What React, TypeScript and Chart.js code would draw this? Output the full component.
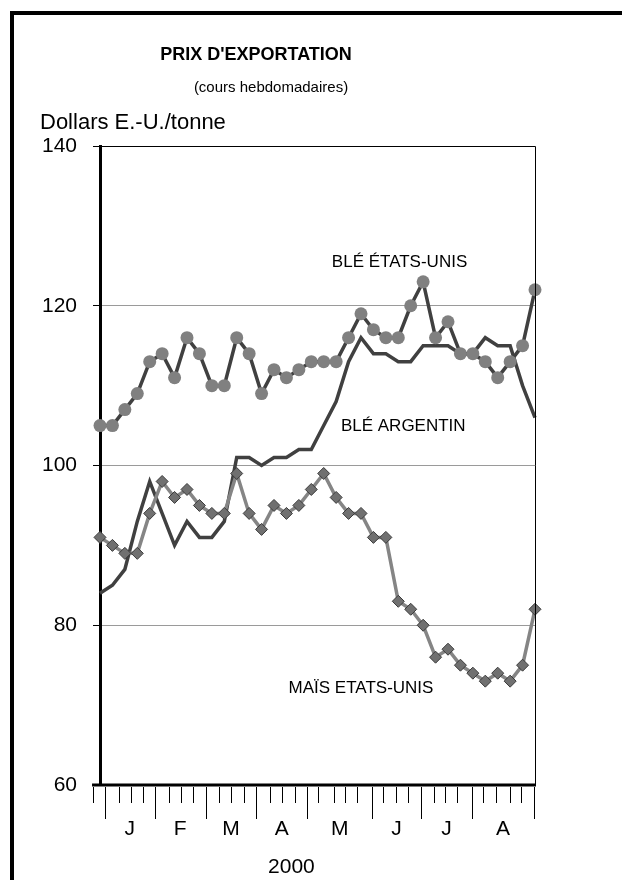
import React, { useEffect, useRef } from "react";
import { Chart, registerables } from "chart.js";

Chart.register(...registerables);

// ---- data ----
const weeks = [
  "S1", "S2", "S3", "S4", "S5", "S6", "S7", "S8", "S9", "S10", "S11", "S12",
  "S13", "S14", "S15", "S16", "S17", "S18", "S19", "S20", "S21", "S22", "S23", "S24",
  "S25", "S26", "S27", "S28", "S29", "S30", "S31", "S32", "S33", "S34", "S35", "S36",
];

const bleEtatsUnis = [
  105, 105, 107, 109, 113, 114, 111, 116, 114, 110, 110, 116,
  114, 109, 112, 111, 112, 113, 113, 113, 116, 119, 117, 116,
  116, 120, 123, 116, 118, 114, 114, 113, 111, 113, 115, 122,
];

const bleArgentin = [
  84, 85, 87, 93, 98, 94, 90, 93, 91, 91, 93, 101,
  101, 100, 101, 101, 102, 102, 105, 108, 113, 116, 114, 114,
  113, 113, 115, 115, 115, 114, 114, 116, 115, 115, 110, 106,
];

const maisEtatsUnis = [
  91, 90, 89, 89, 94, 98, 96, 97, 95, 94, 94, 99,
  94, 92, 95, 94, 95, 97, 99, 96, 94, 94, 91, 91,
  83, 82, 80, 76, 77, 75, 74, 73, 74, 73, 75, 82,
];

const yTicks = [60, 80, 100, 120, 140];
const gridValues = [80, 100, 120];

const monthLabels = ["J", "F", "M", "A", "M", "J", "J", "A"];
// month boundaries (long ticks), in week-index units
const monthBounds = [0.38, 4.4, 8.5, 12.57, 16.68, 21.91, 25.8, 29.95, 34.92];
// weekly tick marks (short), in week-index units
const weekTicks = [
  -0.56, 1.5, 2.47, 3.46, 5.55, 6.49, 7.48, 9.57, 10.56, 11.56, 13.65, 14.67,
  15.66, 17.56, 18.85, 19.71, 20.65, 22.74, 23.81, 24.8, 26.87, 27.76, 28.7,
  30.8, 31.86, 32.99, 33.85,
];
const yearLabel = "2000";

const title = "PRIX D'EXPORTATION";
const subtitle = "(cours hebdomadaires)";
const unitLabel = "Dollars E.-U./tonne";

// series labels placed in data coordinates [week index, value]
const seriesLabels: { text: string; at: [number, number] }[] = [
  { text: "BLÉ ÉTATS-UNIS", at: [24.1, 125.5] },
  { text: "BLÉ ARGENTIN", at: [24.4, 104.9] },
  { text: "MAÏS ETATS-UNIS", at: [21.0, 72.1] },
];

const FONT = "'Liberation Sans', Arial, Helvetica, sans-serif";

const decorPlugin = {
  id: "decor",
  afterDraw(chart: any) {
    const { ctx, chartArea: a, scales } = chart;
    const x = scales.x;
    const y = scales.y;
    ctx.save();
    // top and right frame of plot
    ctx.strokeStyle = "#000";
    ctx.lineWidth = 1;
    ctx.beginPath();
    ctx.moveTo(a.left, a.top + 0.5);
    ctx.lineTo(a.right + 0.5, a.top + 0.5);
    ctx.lineTo(a.right + 0.5, a.bottom);
    ctx.stroke();

    // x axis line
    const x0 = x.getPixelForValue(weekTicks[0]);
    ctx.lineWidth = 3;
    ctx.beginPath();
    ctx.moveTo(x0 - 1, a.bottom);
    ctx.lineTo(a.right + 1, a.bottom);
    ctx.stroke();

    // tick marks
    ctx.lineWidth = 1;
    ctx.beginPath();
    weekTicks.forEach((t) => {
      const px = Math.round(x.getPixelForValue(t)) + 0.5;
      ctx.moveTo(px, a.bottom + 2);
      ctx.lineTo(px, a.bottom + 18);
    });
    monthBounds.forEach((t) => {
      const px = Math.round(x.getPixelForValue(t)) + 0.5;
      ctx.moveTo(px, a.bottom + 2);
      ctx.lineTo(px, a.bottom + 34);
    });
    ctx.stroke();

    // month labels
    ctx.fillStyle = "#000";
    ctx.font = `21px ${FONT}`;
    ctx.textAlign = "center";
    ctx.textBaseline = "middle";
    monthLabels.forEach((m, i) => {
      const c = (x.getPixelForValue(monthBounds[i]) + x.getPixelForValue(monthBounds[i + 1])) / 2;
      ctx.fillText(m, c, a.bottom + 44);
    });
    ctx.fillText(yearLabel, x.getPixelForValue(15.4), a.bottom + 82);

    // series labels
    ctx.font = `17px ${FONT}`;
    seriesLabels.forEach((l) => {
      ctx.fillText(l.text, x.getPixelForValue(l.at[0]), y.getPixelForValue(l.at[1]));
    });

    // titles
    ctx.font = `bold 18px ${FONT}`;
    ctx.fillText(title, 256, 55);
    ctx.font = `15px ${FONT}`;
    ctx.fillText(subtitle, 271, 88);
    ctx.font = `22px ${FONT}`;
    ctx.textAlign = "left";
    ctx.fillText(unitLabel, 40, 123);
    ctx.restore();
  },
};

export default function App() {
  const ref = useRef<HTMLCanvasElement | null>(null);

  useEffect(() => {
    if (!ref.current) return;
    const chart = new Chart(ref.current, {
      type: "line",
      data: {
        labels: weeks,
        datasets: [
          {
            label: "BLÉ ÉTATS-UNIS",
            data: bleEtatsUnis,
            borderColor: "#404040",
            borderWidth: 3.5,
            pointRadius: 6.5,
            pointBackgroundColor: "#808080",
            pointBorderWidth: 0,
            tension: 0,
            clip: false,
          },
          {
            label: "MAÏS ETATS-UNIS",
            data: maisEtatsUnis,
            borderColor: "#858585",
            borderWidth: 3.5,
            pointStyle: "rectRot",
            pointRadius: 6,
            pointBackgroundColor: "#707070",
            pointBorderColor: "#3a3a3a",
            pointBorderWidth: 1,
            tension: 0,
            clip: false,
          },
          {
            label: "BLÉ ARGENTIN",
            data: bleArgentin,
            borderColor: "#404040",
            borderWidth: 3.5,
            pointRadius: 0,
            tension: 0,
            clip: false,
          },
        ],
      },
      options: {
        animation: false,
        responsive: false,
        devicePixelRatio: 1,
        layout: { padding: { left: 0, right: 87, top: 146, bottom: 95 } },
        plugins: {
          legend: { display: false },
          title: { display: false },
          tooltip: { enabled: false },
        },
        scales: {
          x: {
            type: "category",
            display: false,
            offset: false,
          },
          y: {
            min: 60,
            max: 140,
            afterFit: (s: any) => {
              s.width = 100;
            },
            afterBuildTicks: (s: any) => {
              s.ticks = yTicks.map((v) => ({ value: v }));
            },
            border: { color: "#000", width: 3 },
            grid: {
              color: (c: any) =>
                c.tick && gridValues.includes(c.tick.value) ? "#9a9a9a" : "rgba(0,0,0,0)",
              tickColor: "#000",
              tickLength: 7,
              lineWidth: 1,
            },
            ticks: {
              color: "#000",
              font: { family: FONT, size: 21 },
              padding: 16,
            },
          },
        },
      },
      plugins: [decorPlugin],
    });
    return () => chart.destroy();
  }, []);

  return (
    <div style={{ position: "absolute", left: 0, top: 0, width: 622, height: 880, overflow: "hidden", background: "#fff" }}>
      <canvas ref={ref} width={622} height={880} style={{ display: "block" }} />
      <div
        style={{
          position: "absolute",
          left: 10,
          top: 11,
          width: 700,
          height: 900,
          borderLeft: "4px solid #000",
          borderTop: "4px solid #000",
          pointerEvents: "none",
        }}
      />
    </div>
  );
}
